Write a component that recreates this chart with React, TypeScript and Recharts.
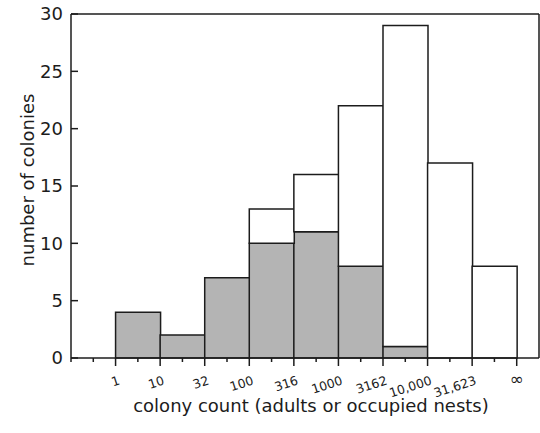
import { BarChart, Bar, XAxis, YAxis } from 'recharts'

// bin edges along the bottom axis (log-spaced colony sizes)
const binEdges = ['1', '10', '32', '100', '316', '1000', '3162', '10,000', '31,623', '∞']
const binNames = ['1–10', '10–32', '32–100', '100–316', '316–1000', '1000–3162', '3162–10,000', '10,000–31,623', '31,623–∞']
const totalColonies = [4, 2, 7, 13, 16, 22, 29, 17, 8]
const greyColonies = [4, 2, 7, 10, 11, 8, 1, 0, 0]

const countTicks = [0, 5, 10, 15, 20, 25, 30]
const edgeTicks = [-1, -0.5, 0, 0.5, 1, 1.5, 2, 2.5, 3, 3.5, 4, 4.5, 5, 5.5, 6, 6.5, 7, 7.5, 8, 8.5, 9]
const topTicks = [0, 2, 4, 6, 8]

const INK = '#1c1c1c'
const FILL = '#b4b4b4'

const W = 540
const H = 433
const PLOT_LEFT = 71
const PLOT_RIGHT = 539
const BAND = (PLOT_RIGHT - PLOT_LEFT) / 10.5

const data = totalColonies.map((total, i) => ({
  bin: binNames[i],
  idx: i,
  grey: greyColonies[i],
  rest: total - greyColonies[i],
  total,
}))

function EdgeTick(props: any) {
  const { x, y, payload } = props
  const v = payload.value as number
  const major = Number.isInteger(v) && v >= 0
  const label = major ? binEdges[v] : ''
  const inf = label === '∞'
  return (
    <g>
      <line x1={x} x2={x} y1={y} y2={y + (major ? 8 : 4)} stroke={INK} strokeWidth={1.5} />
      {major && (
        <text
          x={inf ? x : x + 5}
          y={inf ? y + 27 : y + 26}
          textAnchor={inf ? 'middle' : 'end'}
          fontSize={inf ? 17 : 12.5}
          fill={INK}
          transform={inf ? undefined : `rotate(-18, ${x + 5}, ${y + 26})`}
        >
          {label}
        </text>
      )}
    </g>
  )
}

function CountTick(props: any) {
  const { x, y, payload } = props
  return (
    <g>
      <line x1={x + 8} x2={x + 15} y1={y} y2={y} stroke={INK} strokeWidth={1.5} />
      <text x={x} y={y} dy="0.35em" textAnchor="end" fontSize={18} fill={INK}>
        {payload.value}
      </text>
    </g>
  )
}

export default function App() {
  return (
    <div style={{ position: 'absolute', left: 0, top: 0, background: '#fff' }}>
      <BarChart
        width={W}
        height={H}
        data={data}
        margin={{ top: 14, right: W - PLOT_RIGHT, bottom: 0, left: 0 }}
        barCategoryGap={0}
        style={{ fontFamily: 'DejaVu Sans' }}
      >
        <XAxis
          xAxisId="cat"
          dataKey="bin"
          hide
          height={0}
          padding={{ left: BAND, right: BAND / 2 }}
        />
        <XAxis
          xAxisId="num"
          dataKey="idx"
          type="number"
          domain={[-1, 9.5]}
          allowDataOverflow
          ticks={edgeTicks}
          interval={0}
          height={H - 358}
          tickSize={0}
          tickMargin={0}
          tickLine={false}
          tick={<EdgeTick />}
          axisLine={{ stroke: INK, strokeWidth: 1.5 }}
        />
        <XAxis
          xAxisId="top"
          orientation="top"
          mirror
          dataKey="idx"
          type="number"
          domain={[-1, 9.5]}
          allowDataOverflow
          ticks={topTicks}
          interval={0}
          tick={false}
          tickSize={5}
          tickLine={{ stroke: INK, strokeWidth: 1.5 }}
          axisLine={{ stroke: INK, strokeWidth: 1.5 }}
        />
        <YAxis
          yAxisId="left"
          width={PLOT_LEFT}
          domain={[0, 30]}
          ticks={countTicks}
          interval={0}
          tickSize={0}
          tickMargin={8}
          tickLine={false}
          tick={<CountTick />}
          axisLine={{ stroke: INK, strokeWidth: 1.5 }}
        />
        <YAxis
          yAxisId="right"
          orientation="right"
          mirror
          dataKey="total"
          domain={[0, 30]}
          allowDataOverflow
          ticks={countTicks}
          interval={0}
          tick={false}
          tickSize={6}
          tickLine={{ stroke: INK, strokeWidth: 1.5 }}
          axisLine={{ stroke: INK, strokeWidth: 1.5 }}
        />
        <Bar
          xAxisId="cat"
          yAxisId="left"
          dataKey="grey"
          stackId="c"
          fill={FILL}
          stroke={INK}
          strokeWidth={1.5}
          isAnimationActive={false}
        />
        <Bar
          xAxisId="cat"
          yAxisId="left"
          dataKey="rest"
          stackId="c"
          fill="#ffffff"
          stroke={INK}
          strokeWidth={1.5}
          isAnimationActive={false}
        />
        <text x={34} y={180} textAnchor="middle" fontSize={18} fill={INK} transform="rotate(-90, 34, 180)">
          number of colonies
        </text>
        <text x={311} y={412} textAnchor="middle" fontSize={18} fill={INK}>
          colony count (adults or occupied nests)
        </text>
      </BarChart>
    </div>
  )
}
